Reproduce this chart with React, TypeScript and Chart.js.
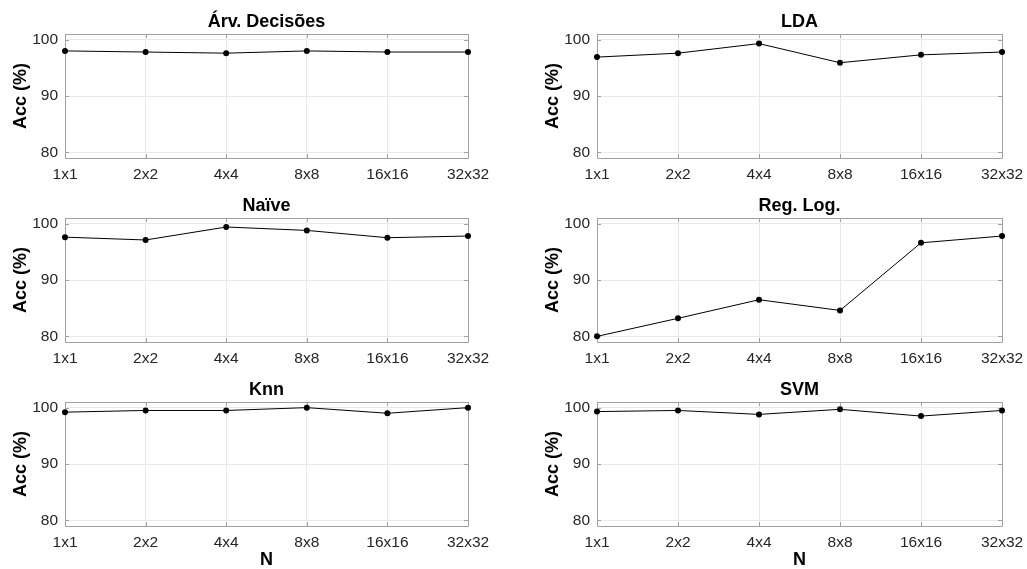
import React, { useEffect, useRef } from 'react';
import { Chart, registerables } from 'chart.js';

Chart.register(...registerables);

const categories = ['1x1', '2x2', '4x4', '8x8', '16x16', '32x32'];
const yTicks = [80, 90, 100];
const yMin = 79;
const yMax = 101;

const arvDecisoes = [98.0, 97.8, 97.6, 98.0, 97.8, 97.8];
const lda = [96.9, 97.6, 99.3, 95.9, 97.3, 97.8];
const naive = [97.6, 97.1, 99.4, 98.8, 97.5, 97.8];
const regLog = [80.0, 83.2, 86.5, 84.6, 96.6, 97.8];
const knn = [99.2, 99.5, 99.5, 100.0, 99.0, 100.0];
const svm = [99.3, 99.5, 98.8, 99.7, 98.5, 99.5];

const panelTitles = ['Árv. Decisões', 'LDA', 'Naïve', 'Reg. Log.', 'Knn', 'SVM'];
const panelSeries = [arvDecisoes, lda, naive, regLog, knn, svm];

const FONT = '"Liberation Sans", Arial, Helvetica, sans-serif';
const BORDER = '#a0a0a0';
const GRID = '#e9e9e9';

const colLeft = [65, 597];
const colWidth = [403, 405];
const rowTop = [34, 218, 402];
const plotH = 124;
const leftSpace = 65;
const topSpace = 34;
const rightSpace = 40;

const boxPlugin = {
  id: 'matlabBox',
  beforeDatasetsDraw(chart: any) {
    const { ctx, chartArea: a, scales } = chart;
    ctx.save();
    ctx.strokeStyle = BORDER;
    ctx.lineWidth = 1;
    ctx.beginPath();
    ctx.rect(Math.round(a.left) + 0.5, Math.round(a.top) + 0.5, Math.round(a.right - a.left), Math.round(a.bottom - a.top));
    ctx.stroke();
    const tl = 4;
    ctx.beginPath();
    scales.x.ticks.forEach((_t: any, i: number) => {
      const x = Math.round(scales.x.getPixelForTick(i)) + 0.5;
      ctx.moveTo(x, a.bottom);
      ctx.lineTo(x, a.bottom - tl);
      ctx.moveTo(x, a.top);
      ctx.lineTo(x, a.top + tl);
    });
    yTicks.forEach((v) => {
      const y = Math.round(scales.y.getPixelForValue(v)) + 0.5;
      ctx.moveTo(a.left, y);
      ctx.lineTo(a.left + tl, y);
      ctx.moveTo(a.right, y);
      ctx.lineTo(a.right - tl, y);
    });
    ctx.stroke();
    ctx.restore();
  },
};

function Panel(props: { title: string; values: number[]; col: number; row: number }) {
  const { title, values, col, row } = props;
  const ref = useRef<HTMLCanvasElement>(null);
  const showN = row === 2;
  const xAxisH = showN ? 43 : 30;
  const width = leftSpace + colWidth[col] + rightSpace;
  const height = topSpace + plotH + xAxisH;
  const left = colLeft[col] - leftSpace;
  const top = rowTop[row] - topSpace;

  useEffect(() => {
    const chart = new Chart(ref.current as HTMLCanvasElement, {
      type: 'line',
      data: {
        labels: categories,
        datasets: [
          {
            data: values,
            borderColor: '#000000',
            backgroundColor: '#000000',
            borderWidth: 1,
            pointRadius: 3,
            pointBackgroundColor: '#000000',
            pointBorderColor: '#000000',
            pointBorderWidth: 0,
            tension: 0,
            fill: false,
            clip: false,
          } as any,
        ],
      },
      options: {
        animation: false,
        responsive: false,
        devicePixelRatio: 1,
        events: [],
        layout: { padding: { left: 0, top: 13.5, right: rightSpace, bottom: 0 } },
        plugins: {
          legend: { display: false },
          tooltip: { enabled: false },
          title: {
            display: true,
            text: title,
            fullSize: false,
            color: '#000000',
            font: { family: FONT, size: 18, weight: 'bold', lineHeight: 1.0 },
            padding: { top: 0, bottom: 2.5 },
          },
        },
        scales: {
          x: {
            type: 'category',
            offset: false,
            grid: { color: GRID, drawTicks: false, offset: false },
            border: { display: false },
            ticks: {
              color: '#262626',
              font: { family: FONT, size: 15.5 },
              padding: 7,
              maxRotation: 0,
              autoSkip: false,
            },
            title: {
              display: showN,
              text: 'N',
              color: '#000000',
              font: { family: FONT, size: 18, weight: 'bold', lineHeight: 1 },
              padding: { top: 0, bottom: 0 },
            },
            afterFit: (s: any) => {
              s.height = xAxisH;
            },
          },
          y: {
            type: 'linear',
            min: yMin,
            max: yMax,
            afterBuildTicks: (s: any) => {
              s.ticks = yTicks.map((v) => ({ value: v }));
            },
            grid: { color: GRID, drawTicks: false },
            border: { display: false },
            ticks: {
              color: '#262626',
              font: { family: FONT, size: 15.5 },
              padding: 7,
            },
            title: {
              display: true,
              text: 'Acc (%)',
              color: '#000000',
              font: { family: FONT, size: 18, weight: 'bold', lineHeight: 1.2 },
              padding: { top: 10, bottom: 0 },
            },
            afterFit: (s: any) => {
              s.width = leftSpace;
            },
          },
        },
      } as any,
      plugins: [boxPlugin],
    });
    return () => chart.destroy();
  }, []);

  return (
    <canvas
      ref={ref}
      width={width}
      height={height}
      style={{ position: 'absolute', left, top, width, height }}
    />
  );
}

export default function App() {
  return (
    <div
      style={{
        position: 'fixed',
        left: 0,
        top: 0,
        width: 1027,
        height: 569,
        overflow: 'hidden',
        background: '#ffffff',
      }}
    >
      {panelTitles.map((t, i) => (
        <Panel key={t} title={t} values={panelSeries[i]} col={i % 2} row={Math.floor(i / 2)} />
      ))}
    </div>
  );
}
